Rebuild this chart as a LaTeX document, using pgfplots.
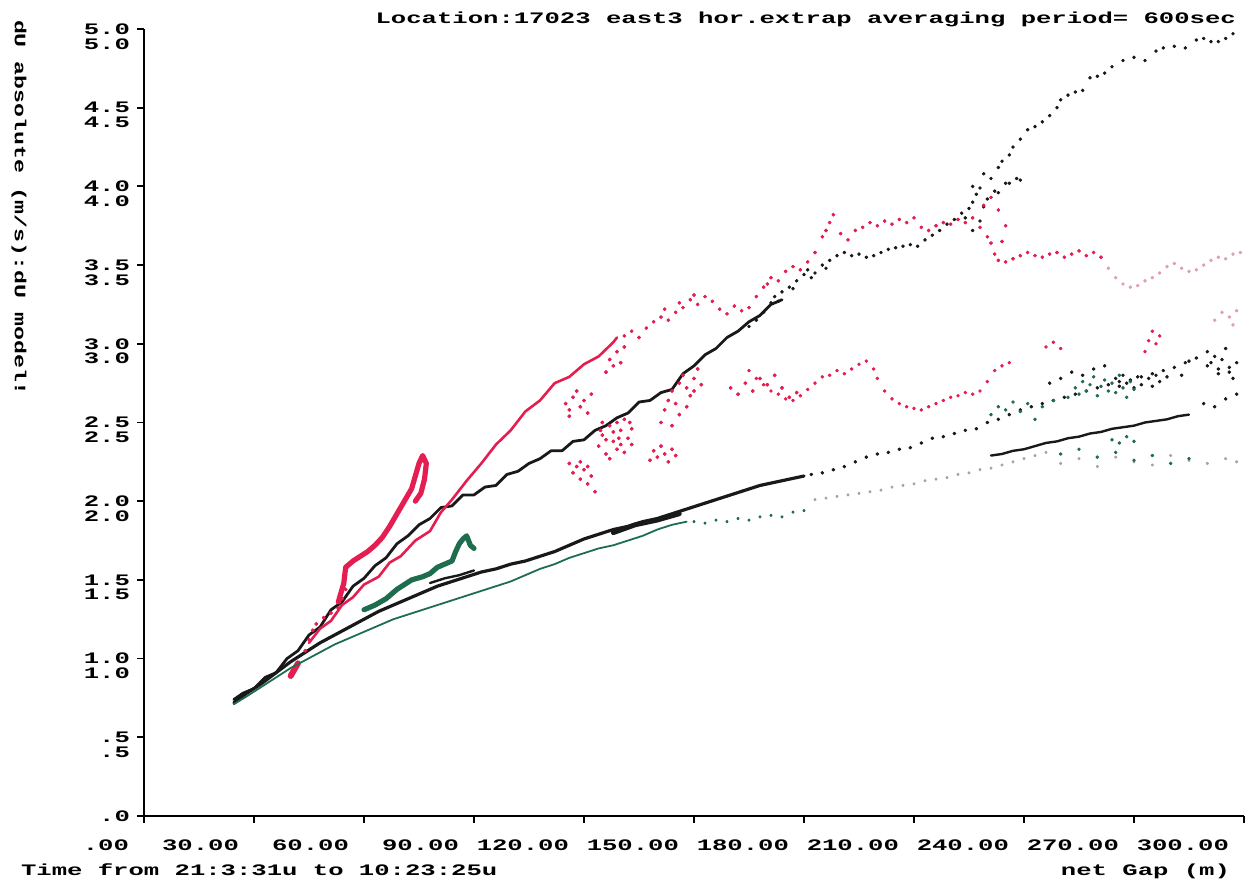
\documentclass[border=0pt]{standalone}
\usepackage{fontspec}
\usepackage{pgfplots}
\pgfplotsset{compat=1.18}
\newfontfamily\plotfont{Liberation Mono}[FakeStretch=1.6]
\newfontfamily\ylabfont{Liberation Mono}[FakeStretch=1.45]
\definecolor{cred}{RGB}{228,30,80}
\definecolor{cgreen}{RGB}{30,110,78}
\definecolor{cblack}{RGB}{25,25,25}
\definecolor{cgray}{RGB}{165,165,165}
\definecolor{cpink}{RGB}{225,160,178}
\newcommand{\pf}{\plotfont\bfseries\fontsize{8}{7.4}\selectfont}
\begin{document}
\begin{tikzpicture}
\begin{axis}[
  name=ax, scale only axis, width=550pt, height=393.5pt,
  xmin=0, xmax=300, ymin=0, ymax=5,
  axis lines=left, axis line style={-, line width=1pt, black},
  tick align=outside, major tick length=3.5pt,
  tick style={line width=0.9pt, black},
  xtick={0,30,60,90,120,150,180,210,240,270,300},
  xticklabels={.00,30.00,60.00,90.00,120.00,150.00,180.00,210.00,240.00,270.00,300.00},
  ytick={0,0.5,1,1.5,2,2.5,3,3.5,4,4.5,5},
  yticklabels={{.0\\\phantom{.0}},{.5\\.5},{1.0\\1.0},{1.5\\1.5},{2.0\\2.0},{2.5\\2.5},{3.0\\3.0},{3.5\\3.5},{4.0\\4.0},{4.5\\4.5},{5.0\\5.0}},
  ticklabel style={font=\pf},
  xticklabel style={anchor=east, xshift=-4pt, yshift=-11pt},
  yticklabel style={anchor=east, align=right, yshift=-3.7pt},
  every axis plot/.append style={line join=round, line cap=round},
]
\coordinate (O) at (rel axis cs:0,0);
% ---- black upper solid line
\addplot[no marks, line width=1.4pt, cblack] coordinates {
(24.5,0.74)(27,0.78)(30,0.81)(33,0.88)(36,0.91)(39,1.00)(42,1.05)(45,1.15)(48,1.20)(51,1.31)(54,1.36)(57,1.46)(60,1.51)(63,1.59)(66,1.64)(69,1.73)(72,1.78)(75,1.85)(78,1.89)(81,1.96)(84,1.97)(87,2.04)(90,2.04)(93,2.09)(96,2.10)(99,2.17)(102,2.19)(105,2.24)(108,2.27)(111,2.32)(114,2.32)(117,2.38)(120,2.39)(123,2.45)(126,2.48)(129,2.53)(132,2.56)(135,2.63)(138,2.64)(141,2.69)(144,2.71)(147,2.81)(150,2.86)(153,2.93)(156,2.97)(159,3.04)(162,3.08)(165,3.14)(168,3.18)(171,3.25)(174,3.28)};
% ---- black upper dots
\addplot[only marks, mark=*, mark size=0.7pt, cblack] coordinates {
(165,3.11)(167,3.15)(169,3.20)(171,3.26)(172,3.30)(174,3.33)(176,3.36)(178,3.40)(180,3.44)(181,3.47)(183,3.45)(185,3.50)(187,3.53)(189,3.56)(191,3.58)(193,3.56)(195,3.57)(197,3.55)(199,3.56)(201,3.58)(203,3.60)(205,3.61)(207,3.62)(209,3.63)(211,3.62)(213,3.66)(215,3.69)(217,3.72)(219,3.76)(221,3.79)(223,3.83)(225,3.86)(226,3.90)(227,3.95)(228,3.99)(229,3.87)(230,3.92)(231,4.05)(232,3.97)(233,4.12)(234,4.16)(235,4.02)(236,4.20)(237,4.25)(238,4.05)(239,4.30)(241,4.36)(243,4.38)(245,4.41)(247,4.45)(249,4.50)(250,4.55)(252,4.58)(254,4.60)(256,4.61)(258,4.69)(260,4.70)(262,4.72)(264,4.76)(267,4.80)(270,4.82)(273,4.80)(276,4.86)(278,4.88)(281,4.89)(284,4.88)(287,4.93)(289,4.94)(291,4.92)(293,4.92)(295,4.94)(297,4.97)
(224,3.80)(226,3.72)(228,3.78)(233,3.96)(236,4.02)(239,4.04)(226,4.00)(229,4.08)(173,3.27)(177,3.35)(182,3.42)(186,3.48)};
% ---- red upper solid line
\addplot[no marks, line width=1.3pt, cred] coordinates {
(45,1.10)(48,1.19)(51,1.24)(54,1.34)(57,1.39)(60,1.47)(64,1.52)(67,1.61)(70,1.65)(74,1.75)(78,1.81)(81,1.93)(84,2.01)(88,2.13)(92,2.24)(96,2.36)(100,2.45)(104,2.57)(108,2.64)(112,2.75)(116,2.79)(120,2.87)(124,2.92)(128,3.01)(129,3.04)};
% ---- red upper dots
\addplot[only marks, mark=*, mark size=0.75pt, cred] coordinates {
(131,3.05)(133,3.08)(135,3.04)(137,3.10)(139,3.14)(141,3.17)(143,3.15)(145,3.20)(147,3.23)(149,3.28)(151,3.25)(153,3.30)(155,3.27)(157,3.22)(159,3.19)(161,3.24)(163,3.21)(165,3.23)(167,3.30)(169,3.36)(171,3.42)(173,3.40)(175,3.46)(177,3.49)(179,3.47)(181,3.52)(183,3.58)(185,3.68)(187,3.77)(188,3.82)(190,3.70)(192,3.66)(194,3.72)(196,3.74)(198,3.77)(200,3.75)(202,3.78)(204,3.76)(206,3.79)(208,3.77)(210,3.80)(212,3.74)(214,3.72)(216,3.75)(218,3.77)(220,3.76)(222,3.79)(224,3.77)(226,3.80)(228,3.74)(230,3.68)(231,3.64)(232,3.57)(233,3.53)(235,3.52)(237,3.54)(239,3.56)(241,3.58)(243,3.56)(245,3.55)(247,3.57)(249,3.58)(251,3.55)(253,3.57)(255,3.59)(257,3.56)(259,3.58)(261,3.55)
(229,3.88)(231,3.93)(233,3.85)(235,3.75)(234,3.65)(142,3.22)(146,3.26)(150,3.31)(186,3.72)(170,3.38)};
% ---- faint tail of red upper
\addplot[only marks, mark=*, mark size=0.7pt, cpink] coordinates {
(263,3.48)(265,3.42)(267,3.38)(269,3.36)(271,3.37)(273,3.40)(275,3.42)(277,3.45)(279,3.49)(281,3.51)(283,3.48)(285,3.46)(287,3.47)(289,3.50)(291,3.53)(293,3.55)(295,3.54)(297,3.57)(299,3.58)
(292,3.15)(294,3.20)(296,3.17)(298,3.21)(297,3.12)};
% ---- red left blob
\addplot[no marks, line width=2.6pt, cred] coordinates {
(53,1.36)(54.5,1.48)(55,1.58)(57,1.62)(59,1.65)(61,1.68)(63,1.72)(65,1.77)(67,1.84)(69,1.92)(71,2.00)(73,2.08)(74,2.16)(75,2.24)(76,2.29)(77,2.24)(76.5,2.14)(75.5,2.05)(74,2.00)};
\addplot[only marks, mark=*, mark size=0.8pt, cred] coordinates {
(44,1.05)(45,1.12)(46,1.18)(47,1.22)(49,1.26)(51,1.29)(53,1.32)(54,1.38)(55,1.44)};
\addplot[no marks, line width=3pt, cred] coordinates {(40,0.89)(41,0.93)(42,0.97)};
% ---- red cloud
\addplot[only marks, mark=*, mark size=0.8pt, cred] coordinates {
(124,2.35)(125,2.42)(126,2.30)(127,2.48)(128,2.38)(129,2.33)(130,2.45)(131,2.52)(132,2.40)(133,2.36)(127,2.27)(129,2.50)(131,2.31)(125,2.50)(133,2.46)(128,2.44)(130,2.36)(126,2.39)(124.5,2.45)(132.5,2.50)(129.5,2.40)
(115,2.62)(116,2.58)(117,2.66)(118,2.70)(119,2.60)(120,2.64)(121,2.56)(122,2.68)(116,2.54)
(116,2.24)(117,2.18)(118,2.22)(119,2.14)(120,2.20)(121,2.11)(122,2.16)(123,2.06)(119,2.25)(121,2.22)
(138,2.26)(139,2.32)(140,2.28)(141,2.35)(142,2.30)(143,2.25)(144,2.33)(145,2.29)
(141,2.50)(142,2.58)(143,2.64)(144,2.70)(145,2.62)(146,2.75)(147,2.80)(148,2.72)(149,2.67)(150,2.78)(151,2.84)(152,2.74)(146,2.55)(144,2.48)(148,2.60)(150,2.70)
(126,2.82)(127,2.90)(128,2.86)(129,2.95)(130,2.88)(131,2.98)
(160,2.72)(162,2.68)(164,2.75)(166,2.70)(168,2.78)(170,2.74)(172,2.80)(174,2.72)(176,2.66)(178,2.69)};
% ---- red lower dots
\addplot[only marks, mark=*, mark size=0.7pt, cred] coordinates {
(165,2.83)(167,2.78)(169,2.74)(171,2.70)(173,2.68)(175,2.65)(177,2.64)(179,2.67)(181,2.71)(183,2.75)(185,2.79)(187,2.80)(189,2.83)(191,2.81)(193,2.84)(195,2.87)(197,2.89)(199,2.84)(200,2.78)(202,2.70)(204,2.65)(206,2.62)(208,2.60)(210,2.59)(212,2.58)(214,2.60)(216,2.62)(218,2.64)(220,2.66)(222,2.67)(224,2.69)(226,2.68)(228,2.70)(230,2.76)(232,2.83)(234,2.86)(236,2.88)(246,2.98)(248,3.01)(250,2.97)(273,2.95)(274,3.02)(275,3.08)(276,3.00)(277,3.05)};
% ---- black lower solid
\addplot[no marks, line width=1.6pt, cblack] coordinates {
(24.5,0.72)(28,0.78)(32,0.84)(36,0.91)(40,0.98)(44,1.04)(48,1.10)(52,1.15)(56,1.20)(60,1.25)(64,1.30)(68,1.34)(72,1.38)(76,1.42)(80,1.46)(84,1.49)(88,1.52)(92,1.55)(96,1.57)(100,1.60)(104,1.62)(108,1.65)(112,1.68)(116,1.72)(120,1.76)(124,1.79)(128,1.82)(132,1.84)(136,1.87)(140,1.89)(144,1.92)(148,1.95)(152,1.98)(156,2.01)(160,2.04)(164,2.07)(168,2.10)(172,2.12)(176,2.14)(180,2.16)};
\addplot[no marks, line width=1.2pt, cblack] coordinates {(78,1.48)(82,1.51)(86,1.53)(90,1.56)};
\addplot[no marks, line width=2.4pt, cblack] coordinates {(128,1.80)(134,1.85)(140,1.88)(146,1.92)};
% ---- black lower dots
\addplot[only marks, mark=*, mark size=0.7pt, cblack] coordinates {
(182,2.17)(185,2.18)(188,2.20)(191,2.22)(194,2.25)(197,2.28)(200,2.30)(203,2.31)(206,2.33)(209,2.34)(212,2.37)(215,2.40)(218,2.41)(221,2.43)(224,2.45)(227,2.46)(230,2.50)(233,2.52)(236,2.55)(239,2.58)(242,2.60)(245,2.62)(248,2.64)(251,2.66)(254,2.68)(257,2.70)(260,2.72)(263,2.74)(266,2.76)(269,2.77)(272,2.79)(275,2.81)(278,2.83)(281,2.85)(284,2.88)(287,2.91)(290,2.86)(293,2.81)(296,2.85)(298,2.88)
(290,2.95)(291,2.88)(292,2.92)(293,2.84)(294,2.90)(295,2.97)(296,2.82)(297,2.78)(289,2.62)(292,2.60)(295,2.65)(298,2.68)
(265,2.78)(266,2.73)(267,2.80)(268,2.75)(270,2.72)(271,2.79)(272,2.74)(274,2.78)(275,2.73)(276,2.80)(277,2.76)(279,2.79)
(247,2.75)(250,2.78)(253,2.82)(256,2.80)(259,2.84)(262,2.86)(285,2.89)(283,2.80)};
% ---- black second lower line
\addplot[no marks, line width=1.2pt, cblack] coordinates {
(231,2.29)(234,2.30)(237,2.32)(240,2.33)(243,2.35)(246,2.37)(249,2.38)(252,2.40)(255,2.41)(258,2.43)(261,2.44)(264,2.46)(267,2.47)(270,2.48)(273,2.50)(276,2.51)(279,2.52)(282,2.54)(285,2.55)};
% ---- green line
\addplot[no marks, line width=0.9pt, cgreen] coordinates {
(24.5,0.71)(28,0.76)(32,0.82)(36,0.88)(40,0.94)(44,0.99)(48,1.04)(52,1.09)(56,1.13)(60,1.17)(64,1.21)(68,1.25)(72,1.28)(76,1.31)(80,1.34)(84,1.37)(88,1.40)(92,1.43)(96,1.46)(100,1.49)(104,1.53)(108,1.57)(112,1.60)(116,1.64)(120,1.67)(124,1.70)(128,1.72)(132,1.75)(136,1.78)(140,1.82)(144,1.85)(148,1.87)};
\addplot[only marks, mark=*, mark size=0.6pt, cgreen] coordinates {
(150,1.87)(153,1.86)(156,1.88)(159,1.87)(162,1.89)(165,1.88)(168,1.90)(171,1.91)(174,1.90)(177,1.93)(180,1.94)};
% ---- gray faint dots
\addplot[only marks, mark=*, mark size=0.6pt, cgray] coordinates {
(183,2.01)(186,2.02)(189,2.03)(192,2.04)(195,2.05)(198,2.06)(201,2.07)(204,2.09)(207,2.10)(210,2.11)(213,2.13)(216,2.14)(219,2.15)(222,2.17)(225,2.18)(228,2.20)(231,2.21)(234,2.23)(237,2.25)(240,2.27)(243,2.29)(246,2.31)
(250,2.24)(255,2.27)(260,2.22)(265,2.28)(270,2.25)(275,2.23)(280,2.29)(285,2.26)(290,2.24)(295,2.27)(298,2.25)};
% ---- green blob
\addplot[no marks, line width=2.6pt, cgreen] coordinates {
(60,1.31)(63,1.34)(66,1.38)(69,1.44)(71,1.47)(73,1.50)(76,1.52)(78,1.54)(80,1.58)(82,1.60)(84,1.62)(85,1.68)(86,1.73)(87,1.76)(88,1.78)(89,1.72)(90,1.70)};
% ---- green cluster right
\addplot[only marks, mark=*, mark size=0.7pt, cgreen] coordinates {
(231,2.55)(233,2.60)(235,2.58)(237,2.63)(239,2.57)(241,2.62)(252,2.66)(254,2.72)(255,2.68)(256,2.76)(257,2.70)(258,2.74)(259,2.79)(260,2.67)(261,2.73)(262,2.77)(263,2.70)(264,2.75)(265,2.69)(266,2.80)(267,2.72)(268,2.66)(269,2.76)(270,2.71)(264,2.39)(266,2.37)(268,2.41)(270,2.38)(245,2.60)(248,2.64)(243,2.52)
(250,2.30)(255,2.33)(260,2.28)(265,2.31)(270,2.26)(275,2.29)(280,2.24)(285,2.27)};
\end{axis}
\node[anchor=base east, font=\pf] at ([shift={(549.5pt,396pt)}]O) {Location:17023 east3 hor.extrap averaging period= 600sec};
\node[rotate=-90, anchor=center, font=\ylabfont\bfseries\fontsize{8}{9}\selectfont] at ([shift={(-62.5pt,304pt)}]O) {dU absolute (m/s):dU model!};
\node[anchor=base west, font=\pf] at ([shift={(-65pt,-30pt)}]O) {Time from 21:3:31u to 10:23:25u};
\node[anchor=base east, font=\pf] at ([shift={(546.5pt,-30pt)}]O) {net Gap (m)};
\pgfresetboundingbox
\path[use as bounding box] ([shift={(-72pt,-36pt)}]O) rectangle ([shift={(555.5pt,408pt)}]O);
\end{tikzpicture}
\end{document}
